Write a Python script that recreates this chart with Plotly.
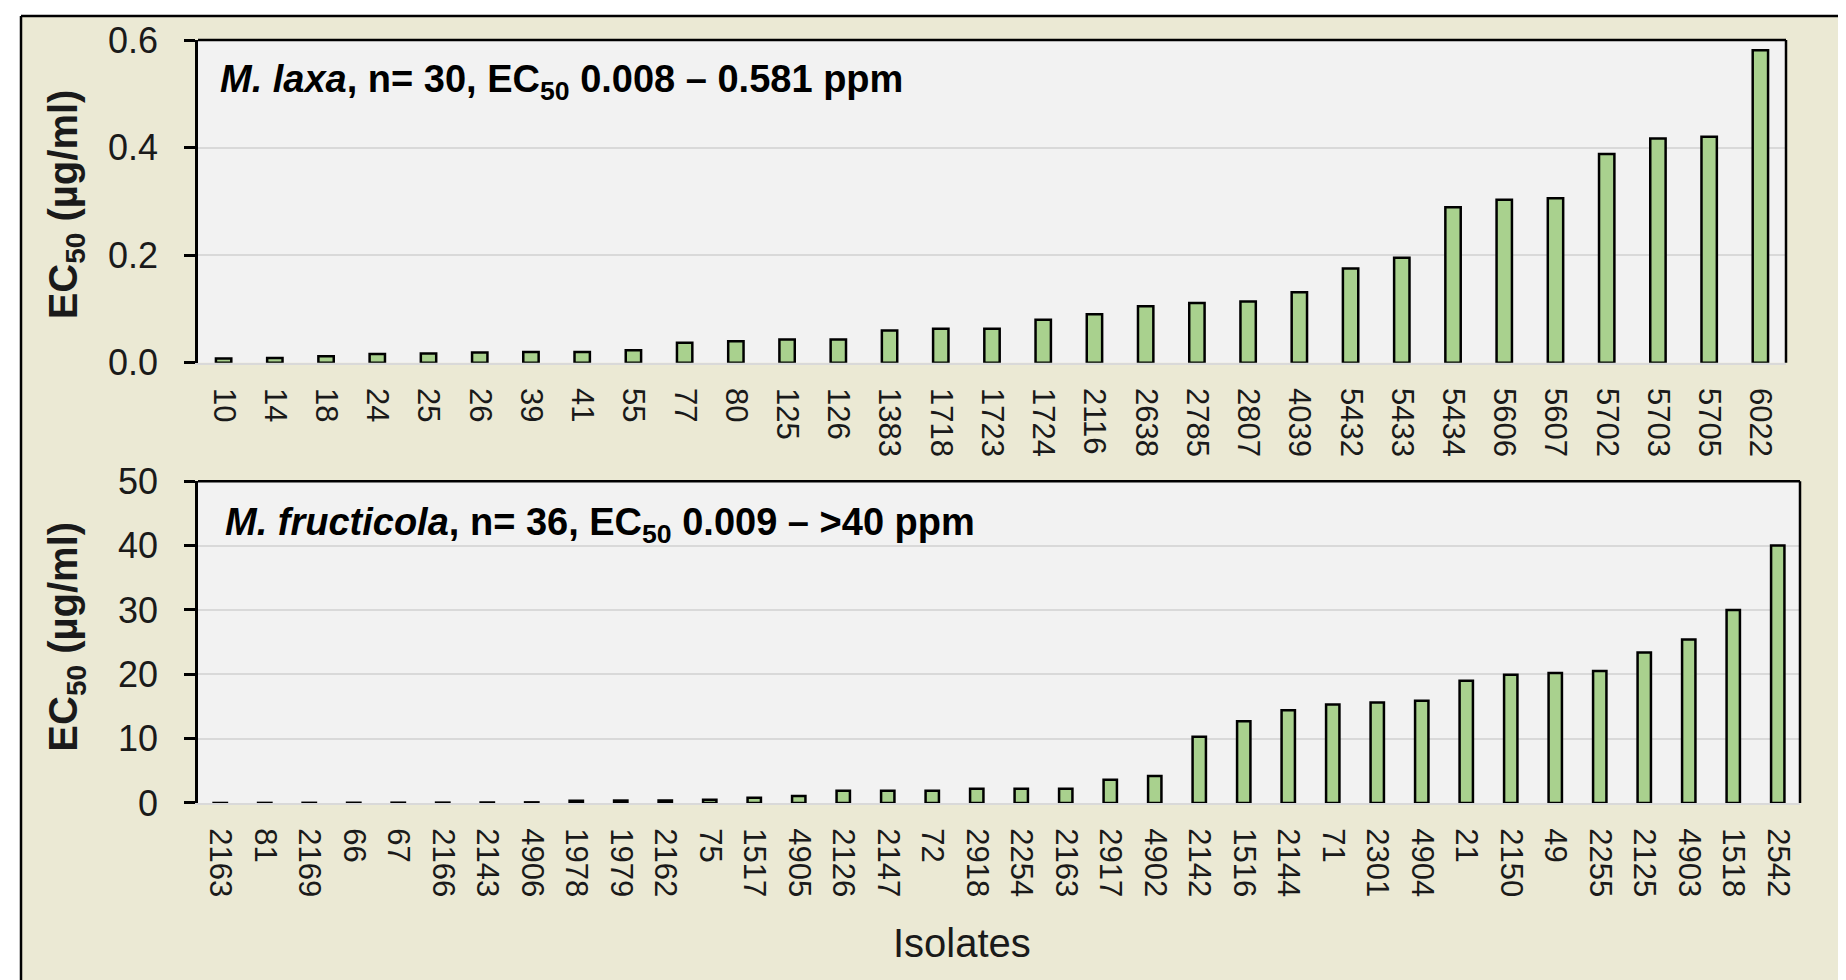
import plotly.graph_objects as go

# ---------------- data ----------------
laxa_isolates = ["10", "14", "18", "24", "25", "26", "39", "41", "55", "77",
                 "80", "125", "126", "1383", "1718", "1723", "1724", "2116", "2638", "2785",
                 "2807", "4039", "5432", "5433", "5434", "5606", "5607", "5702", "5703", "5705",
                 "6022"]
laxa_ec50 = [0.008, 0.009, 0.012, 0.016, 0.017, 0.019, 0.020, 0.020, 0.023, 0.037,
             0.040, 0.043, 0.043, 0.060, 0.063, 0.063, 0.080, 0.090, 0.105, 0.111,
             0.114, 0.131, 0.175, 0.195, 0.289, 0.303, 0.306, 0.388, 0.417, 0.420,
             0.581]

fructicola_isolates = ["2163", "81", "2169", "66", "67", "2166", "2143", "4906", "1978", "1979",
                       "2162", "75", "1517", "4905", "2126", "2147", "72", "2918", "2254", "2163",
                       "2917", "4902", "2142", "1516", "2144", "71", "2301", "4904", "21", "2150",
                       "49", "2255", "2125", "4903", "1518", "2542"]
fructicola_ec50 = [0.009, 0.02, 0.03, 0.04, 0.05, 0.06, 0.08, 0.10, 0.35, 0.38,
                   0.40, 0.50, 0.80, 1.1, 1.9, 1.9, 1.9, 2.2, 2.2, 2.2,
                   3.6, 4.2, 10.3, 12.7, 14.4, 15.3, 15.6, 15.9, 19.0, 19.95,
                   20.2, 20.5, 23.4, 25.4, 30.0, 40.0]

top_ticks = [0.0, 0.2, 0.4, 0.6]
bottom_ticks = [0, 10, 20, 30, 40, 50]

top_label = "<b><i>M. laxa</i>, n= 30, EC<sub>50</sub> 0.008 – 0.581 ppm</b>"
bottom_label = "<b><i>M. fructicola</i>, n= 36, EC<sub>50</sub> 0.009 – >40 ppm</b>"
y_title = "<b>EC<sub>50</sub> (µg/ml)</b>"
x_title = "Isolates"

# ---------------- style ----------------
W, H = 1846, 980
ML, MR, MT, MB = 190, 54, 29, 185
PW, PH = W - ML - MR, H - MT - MB


def px_x(x):
    return (x - ML) / PW


def px_y(y):
    return (H - MB - y) / PH


FONT = "Arial, 'Liberation Sans', sans-serif"
BEIGE = "#EBE9D4"
PLOTBG = "#F2F2F2"
GRID = "#D9D9D9"
BAR = "#A9D18E"
TXT = "#1a1a1a"

fig = go.Figure()
fig.add_trace(go.Bar(x=list(range(len(laxa_ec50))), y=laxa_ec50,
                     marker=dict(color=BAR, line=dict(color="black", width=2.5)),
                     xaxis="x", yaxis="y", showlegend=False))
fig.add_trace(go.Bar(x=list(range(len(fructicola_ec50))), y=fructicola_ec50,
                     marker=dict(color=BAR, line=dict(color="black", width=2.5)),
                     xaxis="x2", yaxis="y2", showlegend=False))

xcommon = dict(showgrid=False, zeroline=False, showline=True, linecolor=GRID, linewidth=2,
               ticks="", tickangle=90, tickfont=dict(family=FONT, size=31, color=TXT),
               ticklabelstandoff=17)
ycommon = dict(showgrid=True, gridcolor=GRID, gridwidth=2, zeroline=False,
               showline=True, linecolor="black", linewidth=2.5,
               ticks="outside", ticklen=11, tickwidth=2.5, tickcolor="black",
               tickfont=dict(family=FONT, size=36, color=TXT), ticklabelstandoff=19)

fig.update_layout(
    width=W, height=H,
    margin=dict(l=ML, r=MR, t=MT, b=MB),
    paper_bgcolor=BEIGE, plot_bgcolor=PLOTBG,
    bargap=0.7,
    xaxis=dict(domain=[px_x(190), px_x(1778)], anchor="y",
               range=[-0.5, len(laxa_ec50) - 0.5],
               tickmode="array", tickvals=list(range(len(laxa_isolates))), ticktext=laxa_isolates,
               **xcommon),
    yaxis=dict(domain=[px_y(353), px_y(29)], anchor="x", range=[0, 0.6],
               tickmode="array", tickvals=top_ticks,
               ticktext=[f"{v:.1f}" for v in top_ticks], **ycommon),
    xaxis2=dict(domain=[px_x(190), px_x(1792)], anchor="y2",
                range=[-0.5, len(fructicola_ec50) - 0.5],
                tickmode="array", tickvals=list(range(len(fructicola_isolates))),
                ticktext=fructicola_isolates, **xcommon),
    yaxis2=dict(domain=[px_y(795), px_y(472)], anchor="x2", range=[0, 50],
                tickmode="array", tickvals=bottom_ticks,
                ticktext=[str(v) for v in bottom_ticks], **ycommon),
)

shapes = []
# plot area top and right borders
for xr, yr in (("x domain", "y domain"), ("x2 domain", "y2 domain")):
    shapes.append(dict(type="line", xref=xr, yref=yr, x0=0, x1=1, y0=1, y1=1,
                       line=dict(color="black", width=2.5), layer="above"))
    shapes.append(dict(type="line", xref=xr, yref=yr, x0=1, x1=1, y0=0, y1=1,
                       line=dict(color="black", width=2.5), layer="above"))
# white outside strips and outer frame
shapes.append(dict(type="rect", xref="paper", yref="paper", x0=px_x(-5), x1=px_x(13),
                   y0=px_y(H + 5), y1=px_y(-5), fillcolor="white", line=dict(width=0)))
shapes.append(dict(type="rect", xref="paper", yref="paper", x0=px_x(-5), x1=px_x(W + 5),
                   y0=px_y(5), y1=px_y(-5), fillcolor="white", line=dict(width=0)))
shapes.append(dict(type="line", xref="paper", yref="paper", x0=px_x(13), x1=px_x(13),
                   y0=px_y(5), y1=px_y(H + 5), line=dict(color="black", width=2.5)))
shapes.append(dict(type="line", xref="paper", yref="paper", x0=px_x(13), x1=px_x(W + 5),
                   y0=px_y(5), y1=px_y(5), line=dict(color="black", width=2.5)))
fig.update_layout(shapes=shapes)

ann = [
    dict(text=top_label, x=px_x(210), y=px_y(71), xref="paper", yref="paper",
         xanchor="left", yanchor="middle", showarrow=False,
         font=dict(family=FONT, size=38, color="black")),
    dict(text=bottom_label, x=px_x(215), y=px_y(516), xref="paper", yref="paper",
         xanchor="left", yanchor="middle", showarrow=False,
         font=dict(family=FONT, size=38, color="black")),
    dict(text=y_title, x=px_x(58), y=px_y(194), xref="paper", yref="paper",
         xanchor="center", yanchor="middle", textangle=-90, showarrow=False,
         font=dict(family=FONT, size=40, color=TXT)),
    dict(text=y_title, x=px_x(58), y=px_y(628), xref="paper", yref="paper",
         xanchor="center", yanchor="middle", textangle=-90, showarrow=False,
         font=dict(family=FONT, size=40, color=TXT)),
    dict(text=x_title, x=px_x(954), y=px_y(936), xref="paper", yref="paper",
         xanchor="center", yanchor="middle", showarrow=False,
         font=dict(family=FONT, size=40, color=TXT)),
]
fig.update_layout(annotations=ann)

fig.write_html("out.html")
